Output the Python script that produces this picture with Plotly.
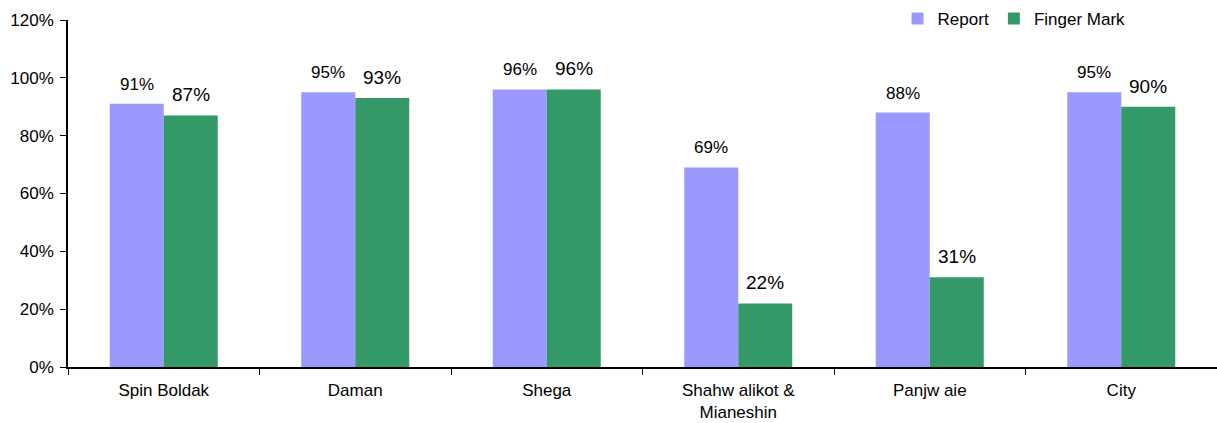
import plotly.graph_objects as go

categories = ["Spin Boldak", "Daman", "Shega", "Shahw alikot &<br>Mianeshin", "Panjw aie", "City"]
report = [0.91, 0.95, 0.96, 0.69, 0.88, 0.95]
finger_mark = [0.87, 0.93, 0.96, 0.22, 0.31, 0.90]
y_ticks = [0, 0.2, 0.4, 0.6, 0.8, 1.0, 1.2]
y_tick_labels = ["0%", "20%", "40%", "60%", "80%", "100%", "120%"]

FONT = "Liberation Sans, Arial, sans-serif"
C_REPORT = "#9999FF"
C_FINGER = "#339966"

fig = go.Figure()
fig.add_trace(go.Bar(x=categories, y=report, name="Report", marker=dict(color=C_REPORT, line=dict(width=0))))
fig.add_trace(go.Bar(x=categories, y=finger_mark, name="Finger Mark", marker=dict(color=C_FINGER, line=dict(width=0))))

annotations = []
for c, v in zip(categories, report):
    annotations.append(dict(x=c, y=v, xref="x", yref="y", text=f"{round(v*100)}%", showarrow=False,
                            xshift=-27, yanchor="bottom", yshift=8, font=dict(family=FONT, size=17, color="#000")))
for c, v in zip(categories, finger_mark):
    annotations.append(dict(x=c, y=v, xref="x", yref="y", text=f"{round(v*100)}%", showarrow=False,
                            xshift=27, yanchor="bottom", yshift=8, font=dict(family=FONT, size=19, color="#000")))

fig.update_layout(
    width=1217, height=423,
    margin=dict(l=68, r=0, t=20, b=56),
    paper_bgcolor="white", plot_bgcolor="white",
    barmode="group", bargap=0.436, bargroupgap=0,
    font=dict(family=FONT, size=17, color="#000"),
    showlegend=True,
    legend=dict(orientation="h", x=0.722, y=1.055, xanchor="left", yanchor="top",
                font=dict(family=FONT, size=17), itemwidth=30, tracegroupgap=0,
                bgcolor="rgba(0,0,0,0)"),
    annotations=annotations,
    xaxis=dict(showline=True, linecolor="#000", linewidth=1.5, ticks="outside", ticklen=6,
               tickcolor="#000", tickson="boundaries", showgrid=False, tickfont=dict(size=17),
               ticklabelstandoff=7),
    yaxis=dict(range=[0, 1.2], tickvals=y_ticks, ticktext=y_tick_labels, showline=True,
               linecolor="#000", linewidth=1.5, ticks="outside", ticklen=6, tickcolor="#000",
               showgrid=False, zeroline=False, tickfont=dict(size=17), ticklabelstandoff=3),
)

fig.write_html("out.html")
